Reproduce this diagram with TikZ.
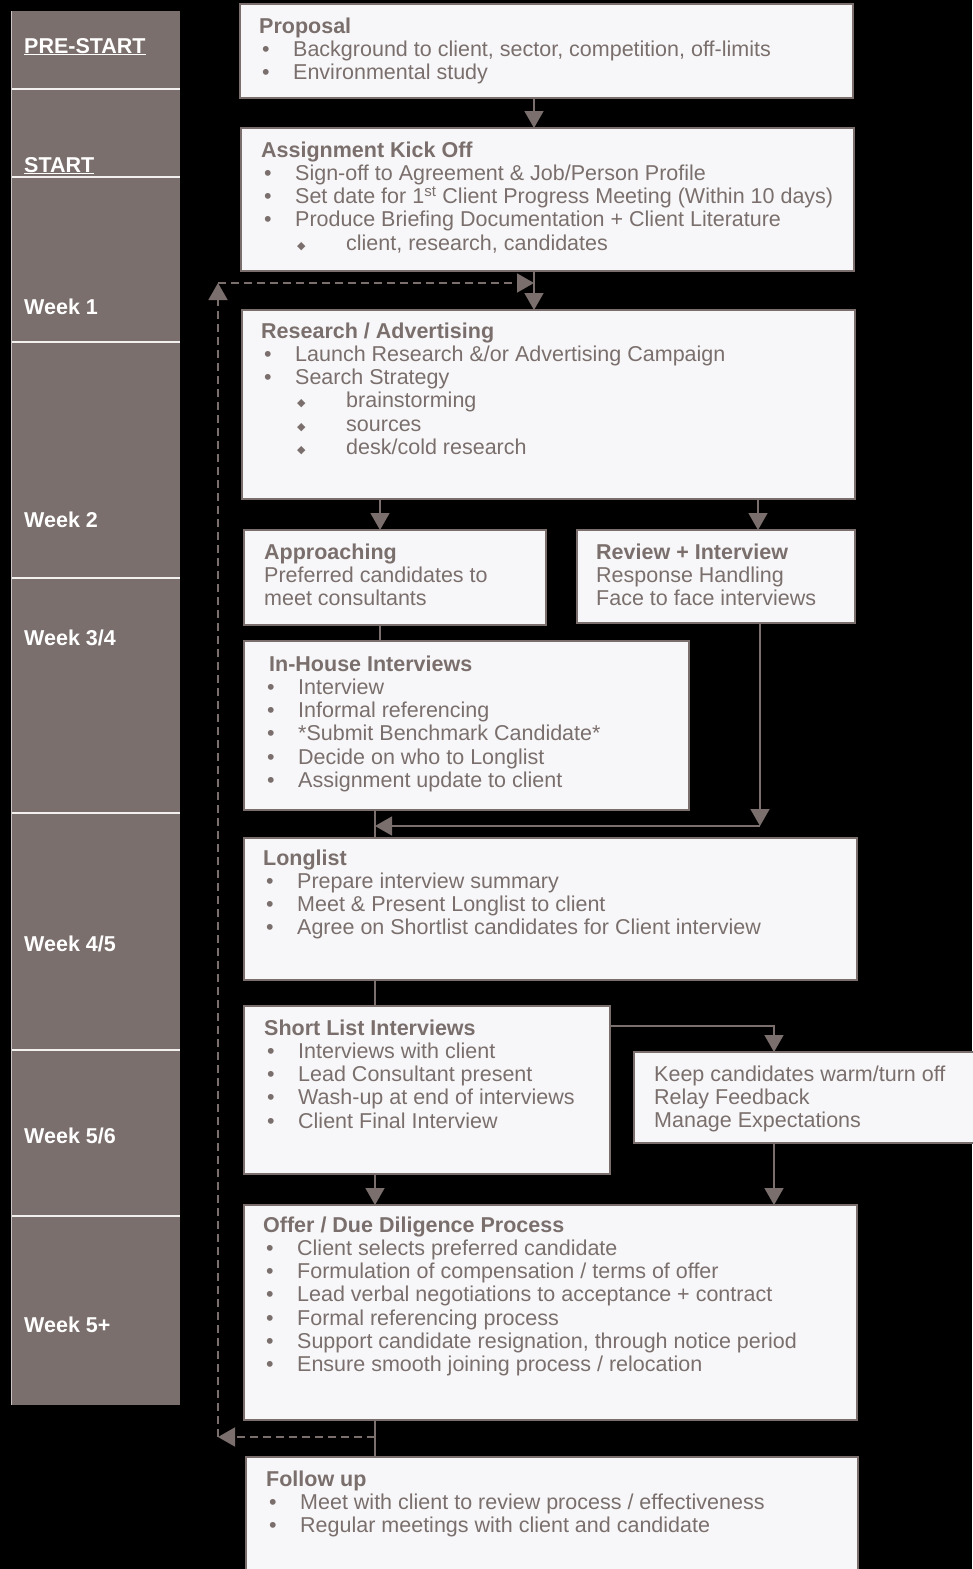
\documentclass[tikz,border=0pt]{standalone}
\usepackage{fontspec}
\setmainfont{Liberation Sans}
\newfontfamily\dejavu{DejaVu Sans}
\usetikzlibrary{arrows.meta}
\definecolor{taupe}{HTML}{7A6F6C}
\definecolor{boxfill}{HTML}{F7F7F9}
\newcommand{\itm}{\makebox[34pt][l]{\hspace{3pt}\textbullet}}
\newcommand{\subitm}{\makebox[85pt][l]{\hspace{36pt}\raisebox{1pt}{\dejavu\fontsize{11}{11}\selectfont ◆}}}

\begin{document}
\begin{tikzpicture}[x=1pt,y=-1pt,
  stage/.style={draw=taupe, line width=2.2pt, fill=boxfill, inner sep=0pt, outer sep=0pt, anchor=north west},
  week/.style={fill=taupe, inner sep=0pt, outer sep=0pt, anchor=north west, minimum width=169pt},
  rule/.style={draw=white!90!taupe, line width=2pt},
  wlabel/.style={text=white, font=\fontsize{21.5}{23}\selectfont\bfseries, anchor=base west, inner sep=0pt},
  txt/.style={text=taupe, font=\fontsize{21.5}{23.2}\selectfont, align=left, anchor=north west, inner sep=0pt},
  arr/.style={taupe, line width=1.5pt, -{Triangle[length=17pt,width=19pt]}},
  tie/.style={taupe, line width=1.5pt},
  feedback/.style={taupe, line width=1.8pt, dash pattern=on 8pt off 5pt, -{Triangle[length=17pt,width=19pt]}}]

\fill[black] (0,0) rectangle (972,1569);
\useasboundingbox (0,0) rectangle (972,1569);

% time line
\node[week, minimum height=78pt] (prestart) at (11,11) {};
\node[week, minimum height=88pt] (start) at (11,89) {};
\node[week, minimum height=165pt] (week1) at (11,177) {};
\node[week, minimum height=236pt] (week2) at (11,342) {};
\node[week, minimum height=235pt] (week34) at (11,578) {};
\node[week, minimum height=237pt] (week45) at (11,813) {};
\node[week, minimum height=166pt] (week56) at (11,1050) {};
\node[week, minimum height=189pt] (week5p) at (11,1216) {};
\draw[rule] (prestart.south west) -- (prestart.south east);
\draw[rule] (start.south west) -- (start.south east);
\draw[rule] (week1.south west) -- (week1.south east);
\draw[rule] (week2.south west) -- (week2.south east);
\draw[rule] (week34.south west) -- (week34.south east);
\draw[rule] (week45.south west) -- (week45.south east);
\draw[rule] (week56.south west) -- (week56.south east);
\draw[draw=white!60!taupe, line width=1pt] (prestart.north west) -- (week5p.south west);

\node[wlabel] (lprestart) at (24,53) {\underline{PRE-START}};
\node[wlabel] (lstart) at (24,172) {\underline{START}};
\node[wlabel] (lweek1) at (24,314) {Week 1};
\node[wlabel] (lweek2) at (24,527) {Week 2};
\node[wlabel] (lweek34) at (24,645) {Week 3/4};
\node[wlabel] (lweek45) at (24,951) {Week 4/5};
\node[wlabel] (lweek56) at (24,1143) {Week 5/6};
\node[wlabel] (lweek5p) at (24,1332) {Week 5+};

% stages
\node[stage, minimum width=613pt, minimum height=94pt] (proposal) at (240,4) {};
\node[stage, minimum width=613pt, minimum height=143pt] (kickoff) at (241,128) {};
\node[stage, minimum width=613pt, minimum height=189pt] (research) at (242,310) {};
\node[stage, minimum width=302pt, minimum height=95pt] (approach) at (244,530) {};
\node[stage, minimum width=278pt, minimum height=93pt] (review) at (577,530) {};
\node[stage, minimum width=445pt, minimum height=169pt] (inhouse) at (244,641) {};
\node[stage, minimum width=613pt, minimum height=142pt] (longlist) at (244,838) {};
\node[stage, minimum width=366pt, minimum height=168pt] (shortlist) at (244,1006) {};
\node[stage, minimum width=350pt, minimum height=91pt] (keep) at (634,1052) {};
\node[stage, minimum width=613pt, minimum height=215pt] (offer) at (244,1205) {};
\node[stage, minimum width=612pt, minimum height=130pt] (followup) at (246,1457) {};

\node[txt] (proposaltxt) at (259,17.5) {\textbf{Proposal}\\\itm Background to client, sector, competition, off-limits\\\itm Environmental study};
\node[txt] (kickofftxt) at (261,141.5) {\textbf{Assignment Kick Off}\\\itm Sign-off to Agreement \& Job/Person Profile\\\itm Set date for 1\textsuperscript{st} Client Progress Meeting (Within 10 days)\\\itm Produce Briefing Documentation + Client Literature\\\subitm client, research, candidates};
\node[txt] (researchtxt) at (261,322.5) {\textbf{Research / Advertising}\\\itm Launch Research \&/or Advertising Campaign\\\itm Search Strategy\\\subitm brainstorming\\\subitm sources\\\subitm desk/cold research};
\node[txt] (approachtxt) at (264,543.5) {\textbf{Approaching}\\Preferred candidates to\\meet consultants};
\node[txt] (reviewtxt) at (596,543.5) {\textbf{Review + Interview}\\Response Handling\\Face to face interviews};
\node[txt] (inhousetxt) at (264,655.5) {\hspace*{5pt}\textbf{In-House Interviews}\\\itm Interview\\\itm Informal referencing\\\itm *Submit Benchmark Candidate*\\\itm Decide on who to Longlist\\\itm Assignment update to client};
\node[txt] (longlisttxt) at (263,849.5) {\textbf{Longlist}\\\itm Prepare interview summary\\\itm Meet \& Present Longlist to client\\\itm Agree on Shortlist candidates for Client interview};
\node[txt] (shortlisttxt) at (264,1019.5) {\textbf{Short List Interviews}\\\itm Interviews with client\\\itm Lead Consultant present\\\itm Wash-up at end of interviews\\\itm Client Final Interview};
\node[txt] (keeptxt) at (654,1065.5) {Keep candidates warm/turn off\\Relay Feedback\\Manage Expectations};
\node[txt] (offertxt) at (263,1216.5) {\textbf{Offer / Due Diligence Process}\\\itm Client selects preferred candidate\\\itm Formulation of compensation / terms of offer\\\itm Lead verbal negotiations to acceptance + contract\\\itm Formal referencing process\\\itm Support candidate resignation, through notice period\\\itm Ensure smooth joining process / relocation};
\node[txt] (followuptxt) at (266,1470.5) {\textbf{Follow up}\\\itm Meet with client to review process / effectiveness\\\itm Regular meetings with client and candidate};

% connectors
\coordinate (colA) at (534,0);
\coordinate (colB) at (380,0);
\coordinate (colC) at (758,0);
\coordinate (colE) at (375,0);
\coordinate (merge) at (760,826);
\coordinate (warm) at (774,1026);

\draw[arr] (proposal.south -| colA) -- (kickoff.north -| colA);
\draw[arr] (kickoff.south -| colA) -- (research.north -| colA);
\draw[arr] (research.south -| colB) -- (approach.north -| colB);
\draw[arr] (research.south -| colC) -- (review.north -| colC);
\draw[tie] (approach.south -| colB) -- (inhouse.north -| colB);
\draw[arr] (review.south -| merge) -- (merge);
\draw[arr] (merge) -- (merge -| colE);
\draw[tie] (inhouse.south -| colE) -- (longlist.north -| colE);
\draw[tie] (longlist.south -| colE) -- (shortlist.north -| colE);
\draw[arr] (warm -| shortlist.east) -- (warm) -- (keep.north -| warm);
\draw[arr] (shortlist.south -| colE) -- (offer.north -| colE);
\draw[arr] (keep.south -| warm) -- (offer.north -| warm);
\draw[tie] (offer.south -| colE) -- (followup.north -| colE);

% feedback loop
\coordinate (fbstart) at (375,1437);
\coordinate (fbcorner) at (218,1437);
\coordinate (fbtop) at (218,283);
\coordinate (fbend) at (534,283);
\draw[feedback] (fbstart) -- (fbcorner);
\draw[feedback] (fbcorner) -- (fbtop);
\draw[feedback] (fbtop) -- (fbend);

\end{tikzpicture}
\end{document}
